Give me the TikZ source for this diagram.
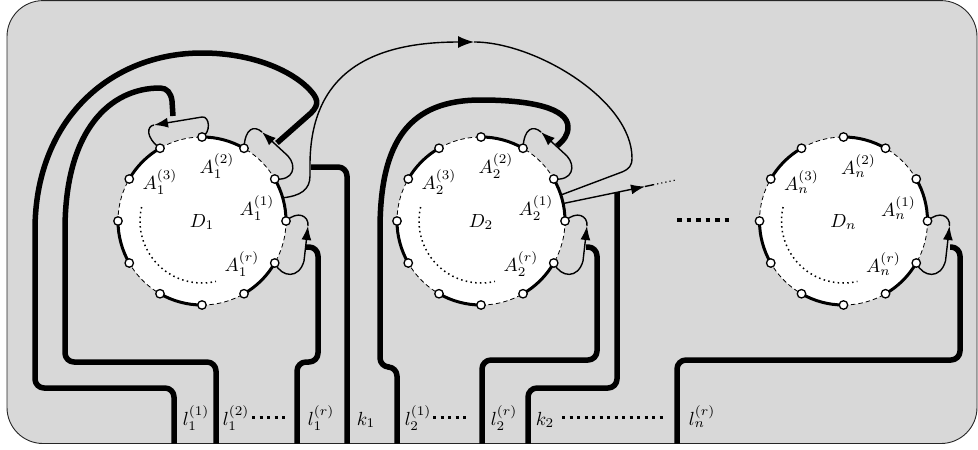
\documentclass[tikz,border=0pt]{standalone}
\usetikzlibrary{arrows.meta}
\definecolor{framegray}{RGB}{216,216,216}
\tikzset{
 bandc/.style={line width=5.5pt, line cap=butt, line join=round},
 band/.style={bandc, rounded corners=9pt},
 thinl/.style={line width=1.4pt, line join=round},
 tipped/.style={-{Latex[length=14pt,width=10pt]}},
 bigtip/.style={-{Latex[length=16pt,width=12pt]}},
 arcline/.style={line width=3pt},
 dashcirc/.style={line width=0.8pt, dash pattern=on 4.5pt off 3pt},
 dotarc/.style={line width=1.5pt, dash pattern=on 1.5pt off 3.3pt},
 pt/.style={circle, draw, fill=white, inner sep=0pt, minimum size=8.5pt, line width=1.3pt},
 lab/.style={inner sep=0pt, scale=1.9, transform shape},
 bigdots/.style={line width=3pt, dash pattern=on 3pt off 4.5pt},
 middots/.style={line width=4pt, dash pattern=on 4.5pt off 5pt},
 smalldots/.style={line width=1.2pt, dash pattern=on 1.2pt off 3pt},
}
\newcommand\diskbody[3]{%
 \begin{scope}[shift={(#2,221)}]
  \fill[white] (0,0) circle[radius=84];
  \draw[dashcirc] (0,0) circle[radius=84];
  \foreach \a in {0,60,...,300}{\draw[arcline] (-\a:84) arc[start angle=-\a, end angle=-\a-30, radius=84];}
  \draw[dotarc] (-167:62) arc[start angle=-167, end angle=-283, radius=62];
  \foreach \a in {0,30,...,330}{\coordinate (#1p\a) at (-\a:84);}
  \node[lab] (#1l1) at (55,-13) {$A_{#3}^{(1)}$};
  \node[lab] (#1l2) at (15,-55) {$A_{#3}^{(2)}$};
  \node[lab] (#1l3) at (-42,-39) {$A_{#3}^{(3)}$};
  \node[lab] (#1lr) at (40,43) {$A_{#3}^{(r)}$};
  \node[lab] (#1ld) at (0,1) {$D_{#3}$};
 \end{scope}}
\newcommand\diskpts[1]{\foreach \a in {0,30,...,330}{\node[pt] (#1q\a) at (#1p\a) {};}}
\newcommand\loopA[2]{%
 \begin{scope}[shift={(#2,221)}]
  \draw[thinl,tipped] (#1p90) .. controls (9,-88) and (8,-105) .. (0,-104) -- (-48,-96);
  \draw[thinl] (-48,-96) .. controls (-55,-95) and (-57,-84) .. (#1p120);
 \end{scope}}
\newcommand\loopB[2]{%
 \begin{scope}[shift={(#2,221)}]
  \draw[thinl,tipped] (#1p30) .. controls (92,-40) and (95,-55) .. (86,-65) -- (60,-89);
  \draw[thinl] (60,-89) .. controls (52,-96) and (43,-93) .. (#1p60);
 \end{scope}}
\newcommand\loopC[2]{%
 \begin{scope}[shift={(#2,221)}]
  \draw[thinl,tipped] (#1p330) .. controls (80,57) and (97,58) .. (102,40) -- (106,5);
  \draw[thinl] (106,5) .. controls (107,-5) and (96,-11) .. (#1p0);
 \end{scope}}
\begin{document}
\begin{tikzpicture}[x=1pt,y=-1pt]
\useasboundingbox (0,0) rectangle (978,450);
\draw[fill=framegray, draw=black!85, line width=0.9pt, rounded corners=36pt] (7,0.6) rectangle (977,443.5);
\diskbody{d1}{202}{1}
\diskbody{d2}{481}{2}
\diskbody{dn}{843.5}{n}
% special points
\coordinate (s1) at (282.7,197.8);
\coordinate (e2) at (560.9,195);
\coordinate (a2) at (563.2,203.5);
\coordinate (topmid) at (474,42);
\coordinate (a2t) at (645,186.5);
\coordinate (a2d) at (653,184.8);
\coordinate (a2e) at (676,180);
% thin loops
\loopA{d1}{202}
\loopB{d1}{202}
\loopC{d1}{202}
\loopB{d2}{481}
\loopC{d2}{481}
\loopC{dn}{843.5}
% big thin arc from D1 to D2
\draw[thinl,bigtip] (s1) .. controls (300,196) and (310,190) .. (310,176) -- (310,165) .. controls (310,70) and (375,42) .. (topmid);
\draw[thinl] (topmid) .. controls (535,42) and (632,100) .. (632,158) .. controls (632,166) and (629,169) .. (622,172) -- (e2);
% arrow to the right from D2
\draw[thinl,tipped] (a2) -- (a2t);
\draw[thinl] (a2t) -- (a2d);
\draw[smalldots] (a2d) -- (a2e);
% bands: straight parts with rounded corners, curved parts separately
\coordinate (j1) at (35,230);
\coordinate (j2) at (65,230);
\coordinate (j3) at (380,230);
\draw[band] (174,443.5) -- (174,388) -- (35,388) -- (j1);
\draw[bandc] (j1) .. controls (35,120) and (110,53) .. (202,53) .. controls (255,53) and (292,72) .. (308,88) .. controls (318,98) and (320,104) .. (311,113) -- (277,143);
\draw[band] (216,443.5) -- (216,362) -- (65,362) -- (j2);
\draw[bandc] (j2) .. controls (65,130) and (110,88) .. (160,88) .. controls (167,88) and (171,93) .. (172,101) -- (173,116);
\draw[band] (297,443.5) -- (297,362) -- (318,362) -- (318,247) -- (306,247);
\draw[band] (347,443.5) -- (347,167) -- (311,167);
\draw[band] (397,443.5) -- (397,367) -- (380,367) -- (j3);
\draw[bandc] (j3) .. controls (380,140) and (410,100) .. (481,100) .. controls (530,100) and (568,108) .. (568,127) .. controls (568,135) and (564,140) .. (557,146);
\draw[band] (482,443.5) -- (482,360) -- (597,360) -- (597,247) -- (586,247);
\draw[band] (528,443.5) -- (528,388) -- (617,388) -- (617,192);
\draw[band] (677,443.5) -- (677,360) -- (960,360) -- (960,247) -- (950,247);
% points
\diskpts{d1}
\diskpts{d2}
\diskpts{dn}
% middle dots
\coordinate (m1) at (677,220);
\coordinate (m2) at (731,220);
\draw[middots] (m1) -- (m2);
% bottom labels
\node[lab,anchor=base] (b1) at (196,425) {$l_1^{(1)}$};
\node[lab,anchor=base] (b2) at (236,425) {$l_1^{(2)}$};
\node[lab,anchor=base] (b3) at (321,425) {$l_1^{(r)}$};
\node[lab,anchor=base] (b4) at (366,425) {$k_1$};
\node[lab,anchor=base] (b5) at (418,425) {$l_2^{(1)}$};
\node[lab,anchor=base] (b6) at (504,425) {$l_2^{(r)}$};
\node[lab,anchor=base] (b7) at (545,425) {$k_2$};
\node[lab,anchor=base] (b8) at (702,425) {$l_n^{(r)}$};
\coordinate (p1) at (252,417); \coordinate (p2) at (287,417);
\coordinate (p3) at (433,417); \coordinate (p4) at (468,417);
\coordinate (p5) at (562,417); \coordinate (p6) at (665,417);
\draw[bigdots] (p1) -- (p2);
\draw[bigdots] (p3) -- (p4);
\draw[bigdots] (p5) -- (p6);
\end{tikzpicture}
\end{document}
